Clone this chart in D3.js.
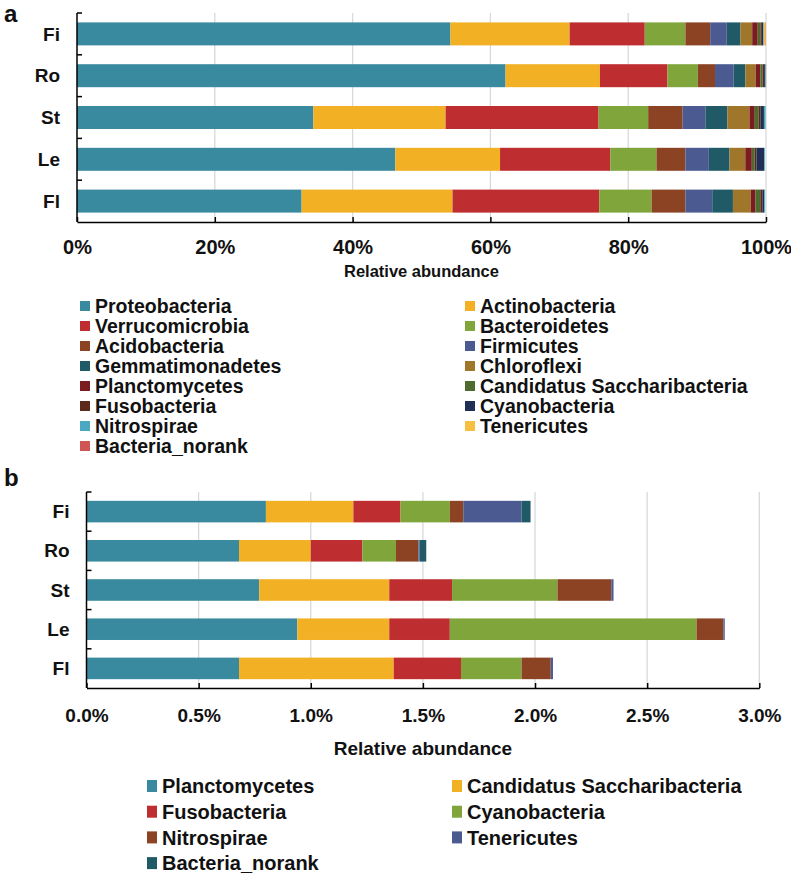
<!DOCTYPE html>
<html>
<head>
<meta charset="utf-8">
<script src="https://cdn.jsdelivr.net/npm/d3@7"></script>
<style>
  body { margin: 0; background: #fff; }
  svg text { font-family: "Liberation Sans", Arial, sans-serif; font-weight: bold; fill: #111; }
  .narrow { font-family: "Liberation Sans Narrow", "Liberation Sans", Arial, sans-serif; }
</style>
</head>
<body>
<div id="chart"></div>
<script>
// sample groups
var categories = ["Fi", "Ro", "St", "Le", "Fl"];

// panel a: major phyla, % of reads
var proteobacteria   = [54.2, 62.2, 34.3, 46.2, 32.6];
var actinobacteria   = [17.3, 13.7, 19.2, 15.2, 21.9];
var verrucomicrobia  = [10.9, 9.8, 22.2, 16.0, 21.3];
var bacteroidetes    = [5.9, 4.4, 7.2, 6.7, 7.6];
var acidobacteria    = [3.6, 2.5, 5.0, 4.2, 4.9];
var firmicutes       = [2.4, 2.7, 3.3, 3.4, 3.9];
var gemmatimonadetes = [2.0, 1.7, 3.2, 3.0, 3.0];
var chloroflexi      = [1.7, 1.5, 3.2, 2.3, 2.6];

// panel b: minor phyla, % of reads
var planctomycetes   = [0.80, 0.68, 0.77, 0.94, 0.68];
var saccharibacteria = [0.39, 0.32, 0.58, 0.41, 0.69];
var fusobacteria     = [0.21, 0.23, 0.28, 0.27, 0.30];
var cyanobacteria    = [0.22, 0.15, 0.47, 1.10, 0.27];
var nitrospirae      = [0.06, 0.10, 0.24, 0.12, 0.13];
var tenericutes      = [0.26, 0.005, 0.01, 0.006, 0.01];
var bacteriaNorank   = [0.04, 0.03, 0.0, 0.0, 0.0];

var ticksA = [0, 20, 40, 60, 80, 100];
var ticksB = [0, 0.5, 1.0, 1.5, 2.0, 2.5, 3.0];

var seriesA = [
  ["Proteobacteria", proteobacteria, "#3a8a9f"],
  ["Actinobacteria", actinobacteria, "#f2b125"],
  ["Verrucomicrobia", verrucomicrobia, "#be2d30"],
  ["Bacteroidetes", bacteroidetes, "#80a53b"],
  ["Acidobacteria", acidobacteria, "#8c4324"],
  ["Firmicutes", firmicutes, "#4b5a91"],
  ["Gemmatimonadetes", gemmatimonadetes, "#1f5a66"],
  ["Chloroflexi", chloroflexi, "#a0772a"],
  ["Planctomycetes", planctomycetes, "#7a1c20"],
  ["Candidatus Saccharibacteria", saccharibacteria, "#4d6b2f"],
  ["Fusobacteria", fusobacteria, "#5c2a18"],
  ["Cyanobacteria", cyanobacteria, "#1f2f55"],
  ["Nitrospirae", nitrospirae, "#4aa8c2"],
  ["Tenericutes", tenericutes, "#f6bf3f"],
  ["Bacteria_norank", bacteriaNorank, "#d05555"]
];

var seriesB = [
  ["Planctomycetes", planctomycetes, "#3a8a9f"],
  ["Candidatus Saccharibacteria", saccharibacteria, "#f2b125"],
  ["Fusobacteria", fusobacteria, "#be2d30"],
  ["Cyanobacteria", cyanobacteria, "#80a53b"],
  ["Nitrospirae", nitrospirae, "#8c4324"],
  ["Tenericutes", tenericutes, "#4b5a91"],
  ["Bacteria_norank", bacteriaNorank, "#1f5a66"]
];

var svg = d3.select("#chart").append("svg")
    .attr("width", 791)
    .attr("height", 877);

function drawPanel(opt) {
  var series = opt.series;
  var keys = series.map(function(s) { return s[0]; });
  var color = d3.scaleOrdinal().domain(keys).range(series.map(function(s) { return s[2]; }));

  var rows = categories.map(function(c, i) {
    var r = { cat: c };
    series.forEach(function(s) { r[s[0]] = s[1][i]; });
    return r;
  });
  var stacked = d3.stack().keys(keys)(rows);

  var x = d3.scaleLinear().domain(opt.domain).range([opt.x0, opt.x1]);
  var y = d3.scaleBand().domain(categories).range([opt.y0, opt.y1])
      .paddingInner(0.45).paddingOuter(0.225);

  var g = svg.append("g");

  // grid lines
  g.selectAll(".grid").data(opt.ticks.slice(1)).enter().append("line")
      .attr("x1", function(d) { return x(d); })
      .attr("x2", function(d) { return x(d); })
      .attr("y1", opt.y0)
      .attr("y2", opt.y1)
      .style("stroke", "#d9d9d9")
      .style("stroke-width", 1.3);

  // bars
  g.selectAll(".layer").data(stacked).enter().append("g")
      .attr("fill", function(d) { return color(d.key); })
      .selectAll("rect")
      .data(function(d) { return d; })
      .enter().append("rect")
      .attr("x", function(d) { return x(d[0]); })
      .attr("width", function(d) { return Math.max(0, x(d[1]) - x(d[0])); })
      .attr("y", function(d) { return y(d.data.cat); })
      .attr("height", y.bandwidth());

  // x axis, ticks pointing inward
  var xAxis = d3.axisBottom(x)
      .tickValues(opt.ticks)
      .tickFormat(opt.fmt)
      .tickSizeInner(-5)
      .tickSizeOuter(0)
      .tickPadding(opt.tickPad);

  var ax = g.append("g")
      .attr("transform", "translate(0," + opt.y1 + ")")
      .call(xAxis);
  ax.select(".domain").style("stroke", "#000").style("stroke-width", 1.5);
  ax.selectAll("line").style("stroke", "#000").style("stroke-width", 1.5);
  ax.selectAll("text")
      .attr("class", opt.narrow ? "narrow" : null)
      .style("font-size", opt.tickFont + "px")
      .style("font-family", null)
      .style("font-weight", "bold")
      .style("fill", "#111");

  // y axis line and ticks at band edges
  g.append("line")
      .attr("x1", opt.x0).attr("x2", opt.x0)
      .attr("y1", opt.y0).attr("y2", opt.y1)
      .style("stroke", "#000").style("stroke-width", 1.5);
  var edges = d3.range(categories.length).map(function(i) { return opt.y0 + i * y.step(); });
  g.selectAll(".ytick").data(edges).enter().append("line")
      .attr("x1", opt.x0).attr("x2", opt.x0 + 5)
      .attr("y1", function(d) { return d; })
      .attr("y2", function(d) { return d; })
      .style("stroke", "#000").style("stroke-width", 1.5);

  g.selectAll(".ylab").data(categories).enter().append("text")
      .attr("x", opt.x0 - 17)
      .attr("y", function(d) { return y(d) + y.bandwidth() / 2; })
      .attr("dy", "0.35em")
      .attr("text-anchor", "end")
      .style("font-size", "19px")
      .text(function(d) { return d; });

  // panel letter
  g.append("text")
      .attr("x", 4)
      .attr("y", opt.letterY)
      .style("font-size", "24px")
      .text(opt.letter);

  // axis title
  g.append("text")
      .attr("class", opt.narrow ? "narrow" : null)
      .attr("x", (opt.x0 + opt.x1) / 2)
      .attr("y", opt.titleY)
      .attr("text-anchor", "middle")
      .style("font-size", opt.titleFont + "px")
      .text("Relative abundance");

  // legend, two columns
  var leg = g.selectAll(".leg").data(keys).enter().append("g")
      .attr("transform", function(d, i) {
        var col = i % 2, row = Math.floor(i / 2);
        return "translate(" + opt.legX[col] + "," + (opt.legY + row * opt.legStep) + ")";
      });
  leg.append("rect")
      .attr("x", 0)
      .attr("y", -opt.swH / 2)
      .attr("width", opt.swW)
      .attr("height", opt.swH)
      .attr("fill", function(d) { return color(d); });
  leg.append("text")
      .attr("class", opt.narrow ? "narrow" : null)
      .attr("x", opt.swW + 5)
      .attr("dy", "0.36em")
      .style("font-size", opt.legFont + "px")
      .text(function(d) { return d; });
}

drawPanel({
  series: seriesA, domain: [0, 100], ticks: ticksA,
  fmt: function(d) { return d + "%"; },
  x0: 77, x1: 766, y0: 13, y1: 222,
  tickPad: 18, tickFont: 20, narrow: false,
  letter: "a", letterY: 22,
  titleY: 277, titleFont: 16.5,
  legX: [80, 465], legY: 306, legStep: 20, swW: 10, swH: 10, legFont: 19.5
});

drawPanel({
  series: seriesB, domain: [0, 3], ticks: ticksB,
  fmt: function(d) { return d3.format(".1f")(d) + "%"; },
  x0: 86.5, x1: 759.3, y0: 492, y1: 688,
  tickPad: 21, tickFont: 19, narrow: true,
  letter: "b", letterY: 486,
  titleY: 755, titleFont: 19,
  legX: [147, 452], legY: 786, legStep: 25.7, swW: 10, swH: 12, legFont: 20
});
</script>
</body>
</html>
